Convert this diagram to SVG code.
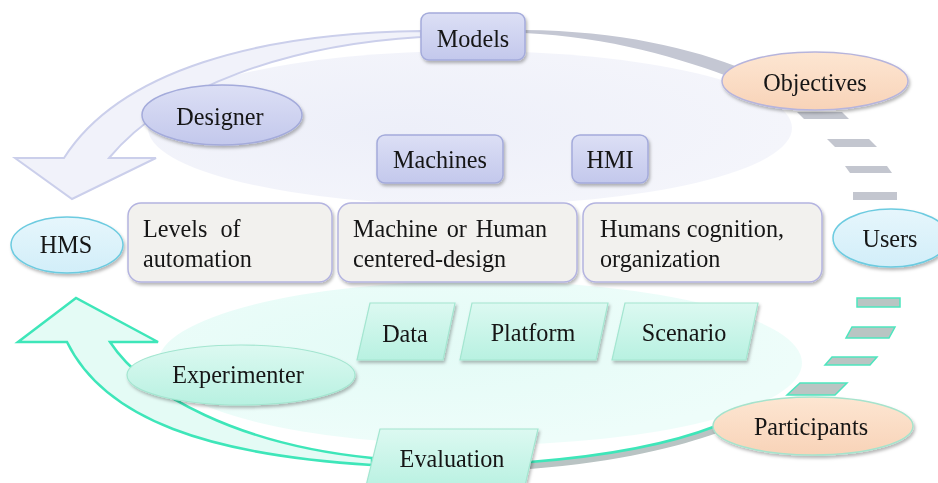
<svg xmlns="http://www.w3.org/2000/svg" width="938" height="483" viewBox="0 0 938 483">
<defs>
<style>
text{font-family:"Liberation Serif","Times New Roman",serif;font-size:24.2px;fill:#141414}
.c{text-anchor:middle}
.lav{fill:url(#gLav);stroke:#a4abdb;stroke-width:1.5}
.box{fill:#f2f1ee;stroke:#b4b4e0;stroke-width:1.5}
.mint{fill:url(#gMint);stroke:#a3e6d0;stroke-width:1.2}
.gd{fill:#c3c6cf}
.td{fill:#b9c5c3;stroke:#4de6be;stroke-width:1.5}
</style>
<linearGradient id="gLav" x1="0" y1="0" x2="0" y2="1"><stop offset="0" stop-color="#dcdff5"/><stop offset="1" stop-color="#c3c8ec"/></linearGradient>
<linearGradient id="gMint" x1="0" y1="0" x2="0" y2="1"><stop offset="0" stop-color="#dcf9f1"/><stop offset="1" stop-color="#b8f1e1"/></linearGradient>
<linearGradient id="gPeach" x1="0" y1="0" x2="0" y2="1"><stop offset="0" stop-color="#fde6d2"/><stop offset="1" stop-color="#f8d3b8"/></linearGradient>
<linearGradient id="gBlue" x1="0" y1="0" x2="0" y2="1"><stop offset="0" stop-color="#e6f6fc"/><stop offset="1" stop-color="#d2eef9"/></linearGradient>
<radialGradient id="gTop" cx="0.4" cy="0.5" r="0.6"><stop offset="0" stop-color="#edeff9"/><stop offset="1" stop-color="#f4f5fb"/></radialGradient>
<radialGradient id="gBot" cx="0.4" cy="0.4" r="0.6"><stop offset="0" stop-color="#e3fbf6"/><stop offset="1" stop-color="#eefdfa"/></radialGradient>
<filter id="sh" x="-20%" y="-20%" width="140%" height="150%"><feDropShadow dx="1.5" dy="2.5" stdDeviation="1.8" flood-color="#000" flood-opacity="0.28"/></filter>
</defs>
<rect width="938" height="483" fill="#fff"/>
<g id="backgrounds">
<ellipse cx="470" cy="128" rx="322" ry="77" fill="url(#gTop)"/>
<ellipse cx="480" cy="363" rx="322" ry="82" fill="url(#gBot)"/>
</g>
<g id="connectors">
<path d="M421 31 C260 33 120 70 64 158 L15 158 L72 199 L156 158 L109 158 C170 85 290 45 421 37 Z" fill="#f1f2fa" stroke="#cbcfeb" stroke-width="2"/>
<path d="M372 465 C210 455 105 420 67 342 L18 342 L76 298 L158 342 L110 342 C145 395 240 445 372 458 Z" fill="#e4fbf5" stroke="#3ee6b9" stroke-width="2.5"/>
<path d="M524 30 C620 31 690 48 746 70 L738 80 C680 58 610 37 524 33 Z" fill="#c4c7d3"/>
<polygon class="gd" points="797,112 842,112 849,119 804,119"/>
<polygon class="gd" points="827,139 869,139 877,147 835,147"/>
<polygon class="gd" points="845,166 887,166 892,173 850,173"/>
<polygon class="gd" points="853,192 897,192 897,200 853,200"/>
<polygon class="td" points="857,298 900,298 900,307 857,307"/>
<polygon class="td" points="852,327 895,327 889,338 846,338"/>
<polygon class="td" points="832,357 877,357 870,365 825,365"/>
<polygon class="td" points="800,383 847,383 835,395 787,395"/>
<path d="M530 462 C620 455 680 440 716 426 L717 433 C680 446 620 462 530 469 Z" fill="#b9c3c3"/>
<path d="M530 462 C620 455 680 440 716 426" fill="none" stroke="#3ee6b9" stroke-width="2.5"/>
</g>
<g id="models" filter="url(#sh)"><rect class="lav" x="421" y="13" width="104" height="47" rx="8"/><text class="c" x="473" y="47">Models</text></g>
<g id="machines" filter="url(#sh)"><rect class="lav" x="377" y="135" width="126" height="48" rx="8"/><text class="c" x="440" y="168">Machines</text></g>
<g id="hmi" filter="url(#sh)"><rect class="lav" x="572" y="135" width="76" height="48" rx="8"/><text class="c" x="610" y="168">HMI</text></g>
<g id="designer" filter="url(#sh)"><ellipse class="lav" cx="222" cy="115" rx="80" ry="30"/><text class="c" x="220" y="125">Designer</text></g>
<g id="objectives" filter="url(#sh)"><ellipse cx="815" cy="81" rx="93" ry="29" fill="url(#gPeach)" stroke="#b6b4dc" stroke-width="1.5"/><text class="c" x="815" y="91">Objectives</text></g>
<g id="hms" filter="url(#sh)"><ellipse cx="67" cy="245" rx="56" ry="28" fill="url(#gBlue)" stroke="#6ccbe0" stroke-width="1.5"/><text class="c" x="66" y="253">HMS</text></g>
<g id="users" filter="url(#sh)"><ellipse cx="891" cy="238" rx="58" ry="29" fill="url(#gBlue)" stroke="#6ccbe0" stroke-width="1.5"/><text class="c" x="890" y="247">Users</text></g>
<g id="levels" filter="url(#sh)"><rect class="box" x="128" y="203" width="204" height="79" rx="13"/><text x="143" y="237" word-spacing="7">Levels of</text><text x="143" y="267">automation</text></g>
<g id="design" filter="url(#sh)"><rect class="box" x="338" y="203" width="239" height="79" rx="13"/><text x="353" y="237" word-spacing="3">Machine or Human</text><text x="353" y="267">centered-design</text></g>
<g id="cognition" filter="url(#sh)"><rect class="box" x="583" y="203" width="239" height="79" rx="13"/><text x="600" y="237">Humans cognition,</text><text x="600" y="267">organization</text></g>
<g id="data" filter="url(#sh)"><polygon class="mint" points="370,303 455,303 443,360 357,360"/><text class="c" x="405" y="342">Data</text></g>
<g id="platform" filter="url(#sh)"><polygon class="mint" points="472,303 608,303 596,360 460,360"/><text class="c" x="533" y="341">Platform</text></g>
<g id="scenario" filter="url(#sh)"><polygon class="mint" points="625,303 758,303 746,360 612,360"/><text class="c" x="684" y="341">Scenario</text></g>
<g id="experimenter" filter="url(#sh)"><ellipse class="mint" cx="241" cy="375" rx="114" ry="30"/><text class="c" x="238" y="383">Experimenter</text></g>
<g id="participants" filter="url(#sh)"><ellipse cx="813" cy="426" rx="100" ry="29" fill="url(#gPeach)" stroke="#a6e3cc" stroke-width="1.5"/><text class="c" x="811" y="435">Participants</text></g>
<g id="evaluation" filter="url(#sh)"><polygon class="mint" points="380,429 538,429 524,490 365,490"/><text class="c" x="452" y="467">Evaluation</text></g>
</svg>
